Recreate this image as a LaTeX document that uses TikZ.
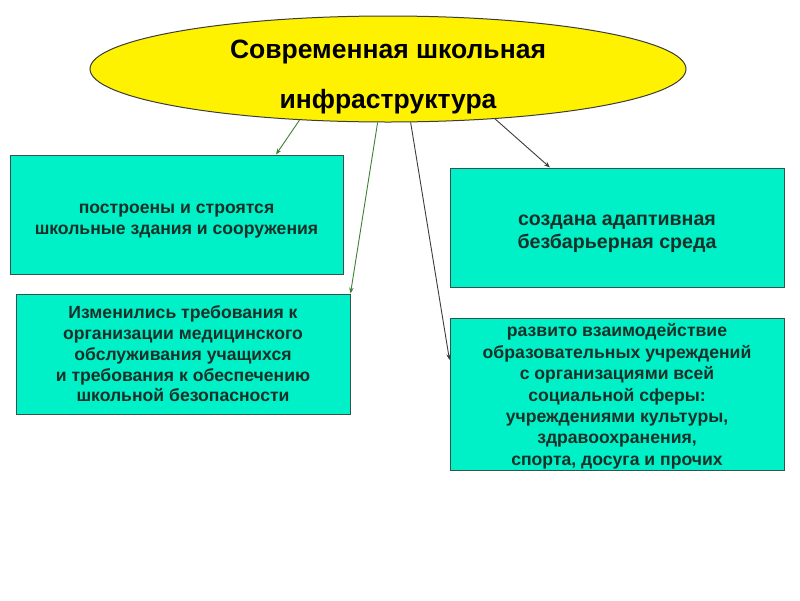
\documentclass[tikz,border=0pt]{standalone}
\usepackage{fontspec}
\setmainfont{Liberation Sans}
\usetikzlibrary{shapes.geometric,arrows.meta}
\definecolor{turq}{RGB}{0,240,200}
\definecolor{boxline}{RGB}{50,85,75}
\definecolor{txt}{RGB}{25,48,40}
\definecolor{greenline}{RGB}{60,130,50}
\definecolor{darkline}{RGB}{60,60,60}
\newcommand{\upsp}[1]{\rule{0pt}{#1}}
\tikzset{
  infobox/.style={draw=boxline, line width=1pt, fill=turq, rectangle, inner sep=0pt,
    align=center, text=txt, font=\bfseries\fontsize{17.6}{20.8}\selectfont},
  conn/.style={line width=0.9pt, -{Stealth[length=6pt,width=4.5pt]}},
}
\begin{document}
\begin{tikzpicture}[x=1pt,y=-1pt]
\useasboundingbox (0,0) rectangle (800,600);
\fill[white] (0,0) rectangle (800,600);
\node[ellipse, draw=darkline, line width=1pt, fill=yellow, minimum width=596pt, minimum height=106pt,
  inner sep=0pt] (ell) at (388,69) {};
\node[align=center, inner sep=0pt, font=\bfseries\fontsize{26.5}{50}\selectfont] (title) at (388,77)
  {Современная школьная\\инфраструктура};
\node[infobox, minimum width=333pt, minimum height=119pt] (b1) at (176.5,214.5)
  {\upsp{23pt}построены и строятся\\школьные здания и сооружения};
\node[infobox, minimum width=334pt, minimum height=119pt, font=\bfseries\fontsize{19.6}{23}\selectfont] (b2) at (617,227.5)
  {\upsp{24pt}создана адаптивная\\безбарьерная среда};
\node[infobox, minimum width=334pt, minimum height=120pt] (b3) at (183,354)
  {Изменились требования к\\организации медицинского\\обслуживания учащихся\\и требования к обеспечению\\школьной безопасности};
\node[infobox, minimum width=334pt, minimum height=152pt, font=\bfseries\fontsize{17.6}{21.4}\selectfont] (b4) at (617,394)
  {\upsp{18pt}развито взаимодействие\\образовательных учреждений\\с организациями всей\\социальной сферы:\\учреждениями культуры,\\здравоохранения,\\спорта, досуга и прочих};
\draw[conn, greenline] (ell.210) -- ([xshift=99.5pt]b1.north);
\draw[conn, greenline] (ell.259) -- (b3.north east);
\draw[conn, darkline] (ell.293) -- ([yshift=34pt]b4.west);
\draw[conn, darkline] (ell.335) -- ([xshift=-67pt]b2.north);
\end{tikzpicture}
\end{document}
